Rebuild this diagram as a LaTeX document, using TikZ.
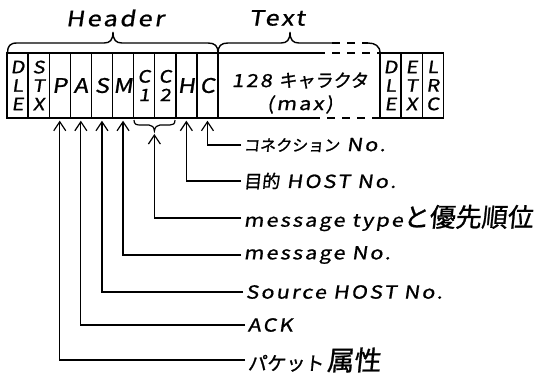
\documentclass[tikz,border=0pt]{standalone}
\usepackage{fontspec}
\usetikzlibrary{arrows.meta}
% handwriting-like lettering: slanted, slightly stretched
\newfontfamily\hand[FakeSlant=0.15,FakeStretch=1.2,LetterSpace=12,FakeBold=1]{Noto Sans CJK JP}
\newfontfamily\jpf[FakeSlant=0.1,FakeBold=1]{Noto Sans CJK JP}
\newcommand\jp[2]{{\jpf\fontsize{#1}{#1}\selectfont #2}}
\tikzset{
  cell/.style={draw, minimum width=21.1pt, minimum height=65pt, inner sep=0pt,
    align=center, font=\hand\fontsize{20}{20}\selectfont},
  stack/.style={cell, font=\hand\fontsize{17}{18.5}\selectfont},
  lbl/.style={anchor=west, inner sep=2pt, font=\hand\fontsize{18}{18}\selectfont},
  title/.style={inner sep=0pt, font=\hand\fontsize{21}{21}\selectfont},
  conn/.style={-{Straight Barb[length=9pt,width=12pt,line width=1.2pt]}, line width=1.2pt, shorten >=2pt},
  frame/.style={line width=1.4pt},
  dashframe/.style={line width=1.4pt, dash pattern=on 8pt off 7pt}
}
\begin{document}
\begin{tikzpicture}[x=1pt,y=-1pt,line width=1.4pt]
\useasboundingbox (0,0) rectangle (544,378);

% header cells
\node[stack] (dle1) at (17.55,85.5) {D\\L\\E};
\node[stack] (stx)  at (38.65,85.5) {S\\T\\X};
\node[cell]  (cP)   at (59.75,85.5) {P};
\node[cell]  (cA)   at (80.85,85.5) {A};
\node[cell]  (cS)   at (101.95,85.5) {S};
\node[cell]  (cM)   at (123.05,85.5) {M};
\node[stack] (cc1)  at (144.15,85.5) {C\\1};
\node[stack] (cc2)  at (165.25,85.5) {C\\2};
\node[cell]  (cH)   at (186.35,85.5) {H};
\node[cell]  (cC)   at (207.45,85.5) {C};

% text field
\node[inner sep=0pt, align=center, font=\hand\fontsize{18}{23}\selectfont]
  (txt) at (300,93) {128 \jp{18}{キャラクタ}\\(max)};
\draw[frame] (218,53) -- (317,53);
\draw[dashframe] (317,53) -- (380,53);
\draw[frame] (218,118) -- (312,118);
\draw[dashframe] (312,118) -- (380,118);

% trailer cells
\node[stack] (dle2) at (390.55,85.5) {D\\L\\E};
\node[stack] (etx)  at (411.65,85.5) {E\\T\\X};
\node[stack] (lrc)  at (432.75,85.5) {L\\R\\C};

% braces and titles
\draw (7.5,53) .. controls (7.5,46) and (10,43) .. (17,43) -- (104,43)
  .. controls (110,43) and (113,40) .. (113,32)
  .. controls (113,40) and (116,43) .. (122,43) -- (208,43)
  .. controls (215,43) and (218,46) .. (218,53);
\draw (218,53) .. controls (218,46) and (221,43) .. (228,43) -- (281,43)
  .. controls (287,43) and (290,40) .. (290,32)
  .. controls (290,40) and (293,43) .. (299,43) -- (332,43);
\draw[dash pattern=on 8pt off 7pt] (332,43) -- (368,43);
\draw (368,43) .. controls (375,43) and (380,46) .. (380,53);
\node[title] (hdr) at (115,18) {Header};
\node[title] (txtt) at (277,18) {Text};

% small brace under C1 C2
\draw[line width=1.2pt] (134,120) .. controls (134,124) and (136,125) .. (140,125) -- (149,125)
  .. controls (152,125) and (154,127) .. (154.4,131)
  .. controls (155,127) and (157,125) .. (160,125) -- (170,125)
  .. controls (173,125) and (175,124) .. (175,120);
\coordinate (ctip) at (154.4,134);

% field descriptions
\node[lbl] (l1) at (241,145) {\jp{16}{コネクション}\ No.};
\node[lbl] (l2) at (241,181) {\jp{18}{目的} HOST No.};
\node[lbl] (l3) at (241,218) {message type\jp{26}{と優先順位}};
\node[lbl] (l4) at (241,255) {message No.};
\node[lbl] (l5) at (243,292) {Source HOST No.};
\node[lbl] (l6) at (245,325) {ACK};
\node[lbl] (l7) at (245,360) {\jp{19}{パケット}\,\jp{27}{属性}};

% leader lines
\draw[conn] (l1.west) -| (cC.south);
\draw[conn] (l2.west) -| (cH.south);
\draw[conn, shorten >=0pt] (l3.west) -| (ctip);
\draw[conn] (l4.west) -| (cM.south);
\draw[conn] (l5.west) -| (cS.south);
\draw[conn] (l6.west) -| (cA.south);
\draw[conn] (l7.west) -| (cP.south);
\end{tikzpicture}
\end{document}
